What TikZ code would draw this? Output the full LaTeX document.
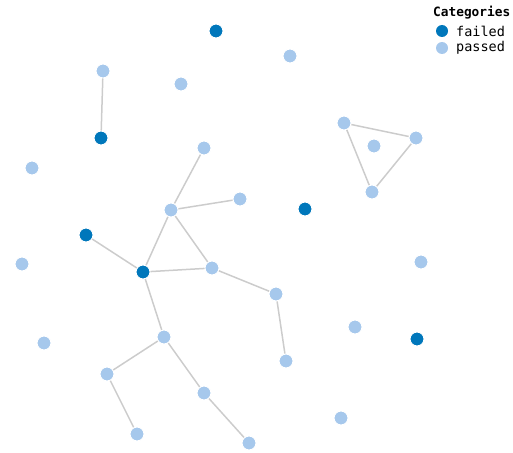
\documentclass[tikz,border=0pt]{standalone}
\usepackage{fontspec}
\setmonofont{DejaVu Sans Mono}
\definecolor{failc}{RGB}{0,119,187}
\definecolor{passc}{RGB}{166,200,236}
\definecolor{edgec}{RGB}{204,204,204}
\begin{document}
\begin{tikzpicture}[x=1pt,y=-1pt,
  pt/.style={circle,draw=white,line width=1pt,minimum size=14pt,inner sep=0pt},
  fail/.style={pt,fill=failc},
  pass/.style={pt,fill=passc},
  edge/.style={draw=edgec,line width=1.5pt},
  lg/.style={font=\ttfamily\fontsize{13.5}{16}\selectfont,anchor=west,inner sep=0pt}]
\useasboundingbox (0,0) rectangle (513,452);
% failed
\node[fail] (f1) at (216,31) {};
\node[fail] (f2) at (101,138) {};
\node[fail] (f3) at (305,209) {};
\node[fail] (f4) at (86,235) {};
\node[fail] (f5) at (143,272) {};
\node[fail] (f6) at (417,339) {};
% passed
\node[pass] (p1) at (103,71) {};
\node[pass] (p2) at (290,56) {};
\node[pass] (p3) at (181,84) {};
\node[pass] (p4) at (344,123) {};
\node[pass] (p5) at (416,138) {};
\node[pass] (p6) at (374,146) {};
\node[pass] (p7) at (204,148) {};
\node[pass] (p8) at (32,168) {};
\node[pass] (p9) at (372,192) {};
\node[pass] (p10) at (240,199) {};
\node[pass] (p11) at (171,210) {};
\node[pass] (p12) at (22,264) {};
\node[pass] (p13) at (421,262) {};
\node[pass] (p14) at (212,268) {};
\node[pass] (p15) at (276,294) {};
\node[pass] (p16) at (355,327) {};
\node[pass] (p17) at (164,337) {};
\node[pass] (p18) at (44,343) {};
\node[pass] (p19) at (286,361) {};
\node[pass] (p20) at (107,374) {};
\node[pass] (p21) at (204,393) {};
\node[pass] (p22) at (341,418) {};
\node[pass] (p23) at (137,434) {};
\node[pass] (p24) at (249,443) {};
% edges
\path[edge] (p1) -- (f2);
\path[edge] (p4) -- (p5);
\path[edge] (p4) -- (p9);
\path[edge] (p5) -- (p9);
\path[edge] (p7) -- (p11);
\path[edge] (p11) -- (p10);
\path[edge] (p11) -- (f5);
\path[edge] (p11) -- (p14);
\path[edge] (f4) -- (f5);
\path[edge] (f5) -- (p14);
\path[edge] (p14) -- (p15);
\path[edge] (p15) -- (p19);
\path[edge] (f5) -- (p17);
\path[edge] (p17) -- (p20);
\path[edge] (p17) -- (p21);
\path[edge] (p20) -- (p23);
\path[edge] (p21) -- (p24);
% legend
\node[lg,font=\ttfamily\bfseries\fontsize{12.8}{16}\selectfont] (lt) at (433,13) {Categories};
\node[circle,fill=failc,minimum size=12pt,inner sep=0pt] (lf) at (442,31) {};
\node[lg] (lft) at (456,31) {failed};
\node[circle,fill=passc,minimum size=12pt,inner sep=0pt] (lp) at (442,48) {};
\node[lg] (lpt) at (456,48) {passed};
\end{tikzpicture}
\end{document}
